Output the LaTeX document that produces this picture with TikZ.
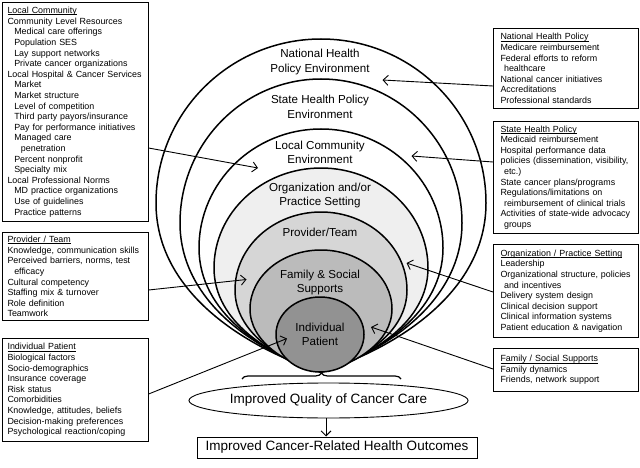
\documentclass[tikz,border=0pt]{standalone}
\usepackage{fontspec}
\setmainfont{Liberation Sans}
\usetikzlibrary{arrows.meta,shapes.geometric,decorations.pathreplacing}
\definecolor{orgc}{HTML}{EFEFEF}
\definecolor{provc}{HTML}{D6D6D6}
\definecolor{famc}{HTML}{BBBBBB}
\definecolor{indc}{HTML}{929292}
\newcommand\ia{\hspace*{6.7pt}}
\newcommand\ib{\hspace*{13.4pt}}
\newcommand\ic{\hspace*{3.5pt}}
\newcommand\hd[1]{\setbox0\hbox{#1}\rlap{\rule[-1.3pt]{\wd0}{0.5pt}}\box0}
% egg-shaped ring: #1 top y, #2 half width, #3 y of widest, #4 bottom angle, #5 fill
\newcommand\eggring[5]{%
\draw[ring, fill=#5] (321,372)
 .. controls ({321-0.5*#2*cos(#4)},{372-0.5*#2*sin(#4)}) and ({321-#2},{#3+0.52*(372-#3)}) .. ({321-#2},#3)
 .. controls ({321-#2},{#3-0.552*(#3-#1)}) and ({321-0.552*#2},#1) .. (321,#1)
 .. controls ({321+0.552*#2},#1) and ({321+#2},{#3-0.552*(#3-#1)}) .. ({321+#2},#3)
 .. controls ({321+#2},{#3+0.52*(372-#3)}) and ({321+0.5*#2*cos(#4)},{372-0.5*#2*sin(#4)}) .. (321,372) -- cycle;}
\begin{document}
\begin{tikzpicture}[x=1pt,y=-1pt,
  ring/.style={line width=1.5pt, line join=round},
  lbl/.style={align=center, font=\fontsize{11.6}{14.5}\selectfont, inner sep=0pt},
  infobox/.style={draw, line width=1.1pt, anchor=north west, align=left, font=\fontsize{8.9}{10.6}\selectfont, inner ysep=0pt},
  lbox/.style={infobox, text width=135pt, inner xsep=5.5pt},
  rbox/.style={infobox, text width=131pt, inner xsep=7pt},
  arr/.style={line width=0.9pt, -{Straight Barb[length=5pt,width=10pt]}}
]
\useasboundingbox (0,0) rectangle (640,468);

% nested rings
\eggring{39}{165}{203}{18}{white}
\eggring{79}{141}{223}{18}{white}
\eggring{129}{122}{248}{18}{white}
\eggring{168}{107}{268}{18}{orgc}
\eggring{212}{86}{290}{16}{provc}
\eggring{250}{71}{309}{12}{famc}
\draw[ring, fill=indc] (320,334.5) ellipse [x radius=44, y radius=37.5];

% ring labels
\node[lbl] (lNat) at (320,62) {National Health\\Policy Environment};
\node[lbl] (lState) at (320,107) {State Health Policy\\Environment};
\node[lbl] (lLocal) at (320,152.5) {Local Community\\Environment};
\node[lbl] (lOrg) at (320,195.5) {Organization and/or\\Practice Setting};
\node[lbl] (lProv) at (320,232) {Provider/Team};
\node[lbl] (lFam) at (320,282.5) {Family \& Social\\Supports};
\node[lbl] (lInd) at (320,334.5) {Individual\\Patient};

% left boxes
\node[lbox, minimum height=219pt] (lc) at (1.5,2) {\hd{Local Community}\\
Community Level Resources\\
\ia Medical care offerings\\
\ia Population SES\\
\ia Lay support networks\\
\ia Private cancer organizations\\
Local Hospital \& Cancer Services\\
\ia Market\\
\ia Market structure\\
\ia Level of competition\\
\ia Third party payors/insurance\\
\ia Pay for performance initiatives\\
\ia Managed care\\
\ib penetration\\
\ia Percent nonprofit\\
\ia Specialty mix\\
Local Professional Norms\\
\ia MD practice organizations\\
\ia Use of guidelines\\
\ia Practice patterns};

\node[lbox, minimum height=88pt] (prov) at (1.5,232) {\hd{Provider / Team}\\
Knowledge, communication skills\\
Perceived barriers, norms, test\\
\ia efficacy\\
Cultural competency\\
Staffing mix \& turnover\\
Role definition\\
Teamwork};

\node[lbox, minimum height=103pt] (indiv) at (1.5,338) {\hd{Individual Patient}\\
Biological factors\\
Socio-demographics\\
Insurance coverage\\
Risk status\\
Comorbidities\\
Knowledge, attitudes, beliefs\\
Decision-making preferences\\
Psychological reaction/coping};

% right boxes
\node[rbox, minimum height=80pt] (natbox) at (493,28) {\hd{National Health Policy}\\
Medicare reimbursement\\
Federal efforts to reform\\
\ic healthcare\\
National cancer initiatives\\
Accreditations\\
Professional standards};

\node[rbox, minimum height=112pt] (statebox) at (493,121) {\hd{State Health Policy}\\
Medicaid reimbursement\\
Hospital performance data\\
policies (dissemination, visibility,\\
\ic etc.)\\
State cancer plans/programs\\
Regulations/limitations on\\
\ic reimbursement of clinical trials\\
Activities of state-wide advocacy\\
\ic groups};

\node[rbox, minimum height=93pt] (orgbox) at (493,244) {\hd{Organization / Practice Setting}\\
Leadership\\
Organizational structure, policies\\
\ic and incentives\\
Delivery system design\\
Clinical decision support\\
Clinical information systems\\
Patient education \& navigation};

\node[rbox, minimum height=43pt] (fambox) at (493,348) {\hd{Family / Social Supports}\\
Family dynamics\\
Friends, network support};

% arrow targets
\coordinate (hNat) at (382.5,80);
\coordinate (hState) at (411.5,156);
\coordinate (hLocal) at (258,168);
\coordinate (hProv) at (246.5,279.5);
\coordinate (hInd) at (287,338.5);
\coordinate (hOrg) at (406.5,263);
\coordinate (hFam) at (371,327);

\draw[arr] (natbox.west |- 0,86) -- (hNat);
\draw[arr] (statebox.west |- 0,162) -- (hState);
\draw[arr] (lc.east |- 0,148) -- (hLocal);
\draw[arr] (prov.east |- 0,290) -- (hProv);
\draw[arr] (indiv.east |- 0,394) -- (hInd);
\draw[arr] (orgbox.west |- 0,292) -- (hOrg);
\draw[arr] (fambox.west |- 0,369) -- (hFam);

% bottom
\coordinate (brL) at (242,379);
\coordinate (brR) at (401,379);
\draw[line width=1.2pt, decorate, decoration={brace, amplitude=6pt}] (brL) -- (brR);
\node[draw, ellipse, line width=0.9pt, minimum width=233pt, minimum height=35pt, inner sep=0pt,
  font=\fontsize{13.5}{16}\selectfont] (qual) at (328.5,400.5) {Improved Quality of Cancer Care};
\node[draw, line width=1pt, minimum width=280pt, minimum height=21pt, inner sep=0pt,
  font=\fontsize{13.5}{16}\selectfont] (outc) at (337,447.5) {Improved Cancer-Related Health Outcomes};
\draw[arr] (qual.south) ++(-2.5,0) coordinate (qs) -- (qs |- outc.north);
\end{tikzpicture}
\end{document}
